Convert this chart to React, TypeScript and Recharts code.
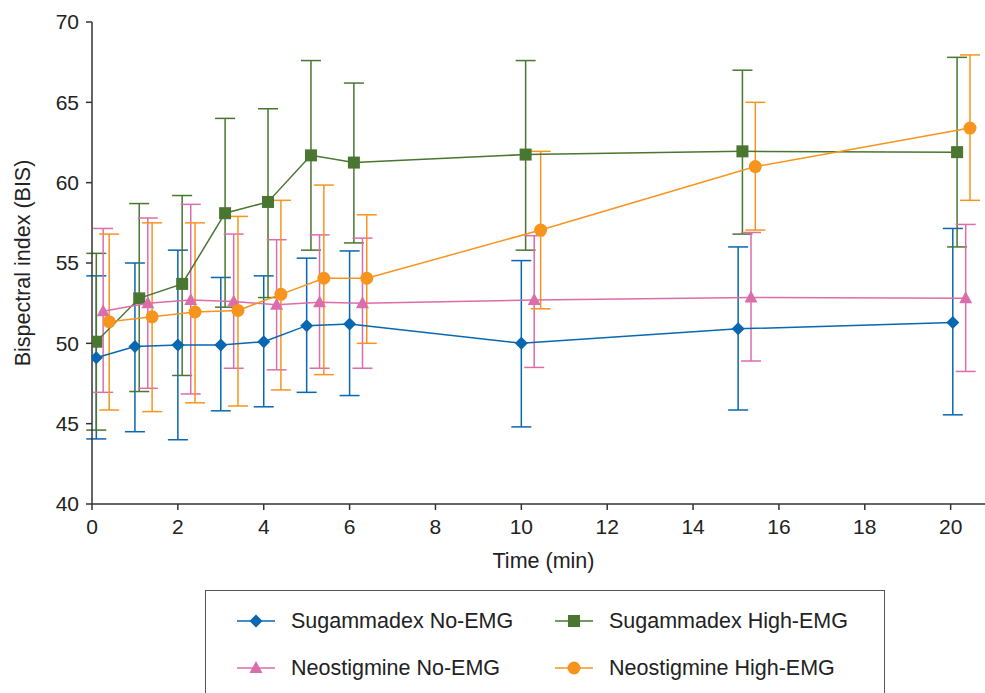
import React from "react";
import {
  ScatterChart,
  Scatter,
  XAxis,
  YAxis,
  ErrorBar,
  Label,
} from "recharts";

const FONT = '"Liberation Sans", Arial, sans-serif';
const INK = "#222";
const AXIS = "#333";

const BLUE = "#0767b1";
const GREEN = "#497630";
const PINK = "#dc6dab";
const ORANGE = "#f7941e";

const X_TICKS = [0, 2, 4, 6, 8, 10, 12, 14, 16, 18, 20];
const Y_TICKS = [40, 45, 50, 55, 60, 65, 70];

// Sugammadex No-EMG
const sugNoX = [0.1, 1.0, 2.0, 3.0, 4.0, 5.0, 6.0, 10.0, 15.05, 20.05];
const sugNoY = [49.1, 49.8, 49.9, 49.9, 50.1, 51.1, 51.2, 50.0, 50.9, 51.3];
const sugNoHi = [54.2, 55.0, 55.8, 54.1, 54.2, 55.3, 55.75, 55.15, 56.0, 57.15];
const sugNoLo = [44.05, 44.5, 44.0, 45.8, 46.05, 46.95, 46.75, 44.8, 45.85, 45.55];

// Sugammadex High-EMG
const sugHiX = [0.1, 1.1, 2.1, 3.1, 4.1, 5.1, 6.1, 10.1, 15.15, 20.15];
const sugHiY = [50.1, 52.8, 53.7, 58.1, 58.8, 61.7, 61.25, 61.75, 61.95, 61.9];
const sugHiHi = [55.6, 58.7, 59.2, 64.0, 64.6, 67.6, 66.2, 67.6, 67.0, 67.8];
const sugHiLo = [44.6, 47.0, 48.0, 52.25, 52.85, 55.8, 56.25, 55.8, 56.8, 56.0];

// Neostigmine No-EMG
const neoNoX = [0.26, 1.3, 2.3, 3.3, 4.3, 5.3, 6.3, 10.3, 15.35, 20.35];
const neoNoY = [52.0, 52.5, 52.7, 52.6, 52.4, 52.55, 52.5, 52.7, 52.85, 52.8];
const neoNoHi = [57.15, 57.8, 58.65, 56.8, 56.45, 56.75, 56.55, 56.7, 56.9, 57.4];
const neoNoLo = [46.95, 47.2, 46.85, 48.45, 48.35, 48.45, 48.45, 48.5, 48.9, 48.25];

// Neostigmine High-EMG
const neoHiX = [0.4, 1.4, 2.4, 3.4, 4.4, 5.4, 6.4, 10.45, 15.45, 20.45];
const neoHiY = [51.35, 51.65, 51.95, 52.05, 53.05, 54.05, 54.05, 57.05, 61.0, 63.4];
const neoHiHi = [56.8, 57.5, 57.5, 57.9, 58.9, 59.85, 58.0, 61.95, 65.0, 67.95];
const neoHiLo = [45.85, 45.75, 46.3, 46.1, 47.1, 48.05, 50.0, 52.15, 57.05, 58.9];

function rows(xs: number[], ys: number[], hi: number[], lo: number[]) {
  return xs.map((x, i) => ({ x, y: ys[i], err: [ys[i] - lo[i], hi[i] - ys[i]] }));
}

const Diamond = (p: any) => {
  const { cx, cy, fill } = p;
  const r = 6.5;
  return <path d={`M${cx},${cy - r}L${cx + r},${cy}L${cx},${cy + r}L${cx - r},${cy}Z`} fill={fill} />;
};
const Square = (p: any) => {
  const { cx, cy, fill } = p;
  return <rect x={cx - 6} y={cy - 6} width={12} height={12} fill={fill} />;
};
const Triangle = (p: any) => {
  const { cx, cy, fill } = p;
  return <path d={`M${cx},${cy - 7}L${cx + 6.5},${cy + 5}L${cx - 6.5},${cy + 5}Z`} fill={fill} />;
};
const Dot = (p: any) => {
  const { cx, cy, fill } = p;
  return <circle cx={cx} cy={cy} r={6.5} fill={fill} />;
};

const SERIES = [
  { name: "Sugammadex No-EMG", color: BLUE, shape: Diamond, data: rows(sugNoX, sugNoY, sugNoHi, sugNoLo) },
  { name: "Sugammadex High-EMG", color: GREEN, shape: Square, data: rows(sugHiX, sugHiY, sugHiHi, sugHiLo) },
  { name: "Neostigmine No-EMG", color: PINK, shape: Triangle, data: rows(neoNoX, neoNoY, neoNoHi, neoNoLo) },
  { name: "Neostigmine High-EMG", color: ORANGE, shape: Dot, data: rows(neoHiX, neoHiY, neoHiHi, neoHiLo) },
];

const LEGEND_POS = [
  { left: 30, top: 30 },
  { left: 348, top: 30 },
  { left: 30, top: 77 },
  { left: 348, top: 77 },
];

function LegendBox() {
  return (
    <div
      style={{
        position: "absolute",
        left: 205,
        top: 590,
        width: 680,
        height: 103,
        boxSizing: "border-box",
        border: "1px solid #555",
        borderBottom: "none",
        fontFamily: FONT,
        fontSize: 21.5,
        color: INK,
      }}
    >
      {SERIES.map((s, i) => {
        const Shape = s.shape;
        return (
          <div key={s.name} style={{ position: "absolute", left: LEGEND_POS[i].left, top: LEGEND_POS[i].top - 12, height: 24, display: "flex", alignItems: "center" }}>
            <svg width={40} height={24} style={{ display: "block" }}>
              <line x1={1} y1={12} x2={39} y2={12} stroke={s.color} strokeWidth={1.5} />
              <Shape cx={20} cy={12} fill={s.color} />
            </svg>
            <span style={{ marginLeft: 15, whiteSpace: "nowrap" }}>{s.name}</span>
          </div>
        );
      })}
    </div>
  );
}

export default function App() {
  return (
    <div style={{ position: "absolute", left: 0, top: 0, width: 985, height: 693, background: "#fff", overflow: "hidden" }}>
      <ScatterChart width={985} height={693} margin={{ top: 22, right: 0, bottom: 119, left: 0 }}>
        <XAxis
          type="number"
          dataKey="x"
          domain={[0, 20.8]}
          ticks={X_TICKS}
          allowDataOverflow
          height={70}
          tickSize={6}
          tickMargin={9}
          stroke={AXIS}
          strokeWidth={1.5}
          tick={{ fill: INK, fontSize: 21, fontFamily: FONT }}
        >
          <Label value="Time (min)" position="center" dx={5} dy={21} style={{ fill: INK, fontSize: 21.5, fontFamily: FONT }} />
        </XAxis>
        <YAxis
          type="number"
          dataKey="y"
          domain={[40, 70]}
          ticks={Y_TICKS}
          allowDataOverflow
          width={92}
          tickSize={6}
          tickMargin={7}
          stroke={AXIS}
          strokeWidth={1.5}
          tick={{ fill: INK, fontSize: 21, fontFamily: FONT }}
        >
          <Label value="Bispectral index (BIS)" position="center" angle={-90} dx={-24} style={{ fill: INK, fontSize: 21.5, fontFamily: FONT, textAnchor: "middle" }} />
        </YAxis>
        {SERIES.map((s) => (
          <Scatter
            key={s.name}
            name={s.name}
            data={s.data}
            fill={s.color}
            line={{ stroke: s.color, strokeWidth: 1.5 }}
            lineType="joint"
            shape={s.shape}
            isAnimationActive={false}
          >
            <ErrorBar dataKey="err" direction="y" width={10} stroke={s.color} strokeWidth={1.5} isAnimationActive={false} />
          </Scatter>
        ))}
      </ScatterChart>
      <LegendBox />
    </div>
  );
}
